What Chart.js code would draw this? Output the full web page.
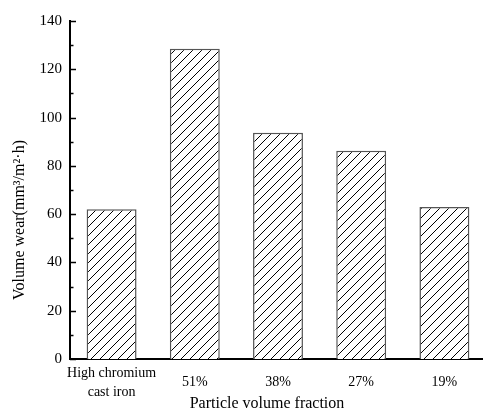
<!DOCTYPE html>
<html>
<head>
<meta charset="utf-8">
<script src="https://cdn.jsdelivr.net/npm/chart.js@4.4.1/dist/chart.umd.min.js"></script>
<style>
  html, body { margin: 0; padding: 0; background: #fff; overflow: hidden; }
  #wrap { width: 483px; height: 412px; overflow: hidden; }
</style>
</head>
<body>
<div id="wrap"><canvas id="chart" width="486" height="412"></canvas></div>
<script>
let categories = [["High chromium", "cast iron"], "51%", "38%", "27%", "19%"];
let wear_values = [62, 128.5, 93.7, 86.3, 63];
let y_min = 0;
let y_max = 140;
let y_step = 10;
let y_label_step = 20;
let x_title = "Particle volume fraction";
let y_title = "Volume wear(mm\u00b3/m\u00b2\u00b7h)";

let font_family = "'Liberation Serif', 'Times New Roman', serif";

function makeHatch() {
  let size = 9;
  let tile = document.createElement("canvas");
  tile.width = size;
  tile.height = size;
  let c = tile.getContext("2d");
  c.fillStyle = "#fff";
  c.fillRect(0, 0, size, size);
  c.strokeStyle = "#000";
  c.lineWidth = 1;
  c.beginPath();
  c.moveTo(0, size);
  c.lineTo(size, 0);
  c.moveTo(-1, 1);
  c.lineTo(1, -1);
  c.moveTo(size - 1, size + 1);
  c.lineTo(size + 1, size - 1);
  c.stroke();
  return c.createPattern(tile, "repeat");
}

// inward tick marks on the y axis and the two axis titles
let decorations = {
  id: "decorations",
  afterDraw(chart) {
    let ctx = chart.ctx;
    let y = chart.scales.y;
    let left = chart.chartArea.left;
    ctx.save();
    ctx.strokeStyle = "#000";
    ctx.lineWidth = 1.5;
    y.ticks.forEach((t) => {
      let py = Math.round(y.getPixelForValue(t.value)) + 0.5;
      let len = t.value % y_label_step === 0 ? 6 : 3.5;
      ctx.beginPath();
      ctx.moveTo(left, py);
      ctx.lineTo(left + len, py);
      ctx.stroke();
    });

    ctx.fillStyle = "#000";
    ctx.font = "16px " + font_family;
    ctx.textAlign = "center";
    ctx.textBaseline = "middle";
    ctx.fillText(x_title, 267, 404);

    ctx.translate(20, 220);
    ctx.rotate(-Math.PI / 2);
    ctx.fillText(y_title, 0, 0);
    ctx.restore();
  },
};

let config = {
  type: "bar",
  data: {
    labels: categories,
    datasets: [
      {
        data: wear_values,
        backgroundColor: makeHatch(),
        borderColor: "#555",
        borderWidth: 1.5,
        borderSkipped: "bottom",
        barPercentage: 0.6,
        categoryPercentage: 1.0,
      },
    ],
  },
  options: {
    responsive: false,
    animation: false,
    events: [],
    layout: { padding: { top: 21, right: 0, left: 0, bottom: 0 } },
    plugins: {
      legend: { display: false },
      tooltip: { enabled: false },
    },
    scales: {
      x: {
        offset: true,
        grid: { display: false, drawTicks: false },
        border: { display: true, color: "#000", width: 2 },
        ticks: {
          color: "#000",
          font: { family: font_family, size: 14, lineHeight: 1.35 },
          padding: 14,
          maxRotation: 0,
          autoSkip: false,
          crossAlign: "center",
        },
        afterFit: (s) => {
          s.height = 53;
        },
      },
      y: {
        min: y_min,
        max: y_max,
        grid: { display: false, drawTicks: false },
        border: { display: true, color: "#000", width: 2 },
        ticks: {
          stepSize: y_step,
          color: "#000",
          font: { family: font_family, size: 15 },
          padding: 8,
          callback: (v) => (v % y_label_step === 0 ? v : ""),
        },
        afterFit: (s) => {
          s.width = 70;
        },
      },
    },
  },
  plugins: [decorations],
};

let chart = new Chart(document.getElementById("chart"), config);
</script>
</body>
</html>
